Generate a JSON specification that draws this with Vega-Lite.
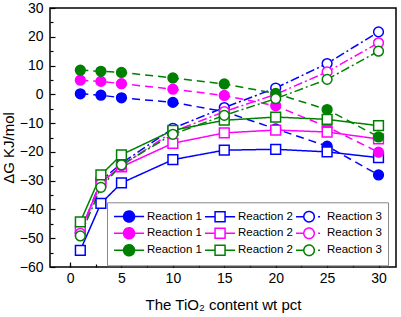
{
  "$schema": "https://vega.github.io/schema/vega-lite/v6.json",
  "width": 346,
  "height": 259,
  "autosize": "none",
  "padding": {"left": 50, "top": 8, "right": 5, "bottom": 50},
  "config": {
    "font": "Liberation Sans",
    "view": {"stroke": "black", "strokeWidth": 1.5},
    "axis": {"grid": false, "domain": false, "labelColor": "black", "titleColor": "black", "tickColor": "black", "titleFontWeight": "normal", "labelFlush": false, "labelOverlap": false},
    "legend": {"orient": "none", "legendX": 57, "legendY": 194.3, "columns": 3, "columnPadding": 0, "rowPadding": -2.5, "padding": 6,
      "strokeColor": "#888888", "fillColor": "white", "labelFontSize": 11.5, "labelColor": "black", "labelOffset": 18, "symbolSize": 196, "symbolStrokeWidth": 1.5}
  },
  "data": {
    "values": [
      {"x": 1, "dG": 0.2, "s": "b1"}, {"x": 3, "dG": -0.3, "s": "b1"}, {"x": 5, "dG": -1.2, "s": "b1"}, {"x": 10, "dG": -2.8, "s": "b1"}, {"x": 15, "dG": -6, "s": "b1"}, {"x": 20, "dG": -12, "s": "b1"}, {"x": 25, "dG": -18, "s": "b1"}, {"x": 30, "dG": -28, "s": "b1"},
      {"x": 1, "dG": -54.2, "s": "b2"}, {"x": 3, "dG": -37.9, "s": "b2"}, {"x": 5, "dG": -30.8, "s": "b2"}, {"x": 10, "dG": -22.7, "s": "b2"}, {"x": 15, "dG": -19.4, "s": "b2"}, {"x": 20, "dG": -19.1, "s": "b2"}, {"x": 25, "dG": -20, "s": "b2"}, {"x": 30, "dG": -22, "s": "b2"},
      {"x": 1, "dG": -48, "s": "b3"}, {"x": 3, "dG": -30, "s": "b3"}, {"x": 5, "dG": -24, "s": "b3"}, {"x": 10, "dG": -11.8, "s": "b3"}, {"x": 15, "dG": -4.6, "s": "b3"}, {"x": 20, "dG": 2.2, "s": "b3"}, {"x": 25, "dG": 10.7, "s": "b3"}, {"x": 30, "dG": 21.7, "s": "b3"},
      {"x": 1, "dG": 4.9, "s": "m1"}, {"x": 3, "dG": 4.5, "s": "m1"}, {"x": 5, "dG": 3.7, "s": "m1"}, {"x": 10, "dG": 1.8, "s": "m1"}, {"x": 15, "dG": -0.4, "s": "m1"}, {"x": 20, "dG": -4, "s": "m1"}, {"x": 25, "dG": -11.3, "s": "m1"}, {"x": 30, "dG": -20.1, "s": "m1"},
      {"x": 1, "dG": -47.5, "s": "m2"}, {"x": 3, "dG": -30.5, "s": "m2"}, {"x": 5, "dG": -25.2, "s": "m2"}, {"x": 10, "dG": -17, "s": "m2"}, {"x": 15, "dG": -13.4, "s": "m2"}, {"x": 20, "dG": -12.4, "s": "m2"}, {"x": 25, "dG": -13.1, "s": "m2"}, {"x": 30, "dG": -15.5, "s": "m2"},
      {"x": 1, "dG": -48.3, "s": "m3"}, {"x": 3, "dG": -31, "s": "m3"}, {"x": 5, "dG": -24.8, "s": "m3"}, {"x": 10, "dG": -13, "s": "m3"}, {"x": 15, "dG": -6, "s": "m3"}, {"x": 20, "dG": 0, "s": "m3"}, {"x": 25, "dG": 7.8, "s": "m3"}, {"x": 30, "dG": 17.9, "s": "m3"},
      {"x": 1, "dG": 8.4, "s": "g1"}, {"x": 3, "dG": 8.0, "s": "g1"}, {"x": 5, "dG": 7.6, "s": "g1"}, {"x": 10, "dG": 5.7, "s": "g1"}, {"x": 15, "dG": 3.6, "s": "g1"}, {"x": 20, "dG": 0.3, "s": "g1"}, {"x": 25, "dG": -5.3, "s": "g1"}, {"x": 30, "dG": -14.8, "s": "g1"},
      {"x": 1, "dG": -44.3, "s": "g2"}, {"x": 3, "dG": -28, "s": "g2"}, {"x": 5, "dG": -21, "s": "g2"}, {"x": 10, "dG": -12.5, "s": "g2"}, {"x": 15, "dG": -9, "s": "g2"}, {"x": 20, "dG": -7.9, "s": "g2"}, {"x": 25, "dG": -8.7, "s": "g2"}, {"x": 30, "dG": -10.9, "s": "g2"},
      {"x": 1, "dG": -49.2, "s": "g3"}, {"x": 3, "dG": -32.3, "s": "g3"}, {"x": 5, "dG": -24.5, "s": "g3"}, {"x": 10, "dG": -13.9, "s": "g3"}, {"x": 15, "dG": -7.3, "s": "g3"}, {"x": 20, "dG": -1.5, "s": "g3"}, {"x": 25, "dG": 5.2, "s": "g3"}, {"x": 30, "dG": 15, "s": "g3"}
    ]
  },
  "resolve": {"axis": {"x": "independent", "y": "independent"}},
  "layer": [
    {
      "mark": {"type": "line", "strokeWidth": 1.5},
      "encoding": {
        "x": {"field": "x", "type": "quantitative", "scale": {"domain": [-1.95, 31.7], "nice": false, "zero": false},
          "axis": {"orient": "bottom", "offset": -5, "values": [0, 5, 10, 15, 20, 25, 30], "tickSize": 5, "tickWidth": 1.2, "labelFontSize": 14, "labelPadding": 4.5, "title": "The TiO₂ content  wt pct", "titleFontSize": 15, "titleY": 47, "titleBaseline": "alphabetic"}},
        "y": {"field": "dG", "type": "quantitative", "scale": {"domain": [-60, 30], "nice": false, "zero": false},
          "axis": {"orient": "left", "offset": -5, "values": [-60, -50, -40, -30, -20, -10, 0, 10, 20, 30], "tickSize": 5, "tickWidth": 1.2, "labelFontSize": 14, "labelPadding": 7, "title": "ΔG KJ/mol", "titleFontSize": 15, "titleX": -41.5, "titleY": 139.5, "titleBaseline": "alphabetic"}},
        "color": {"field": "s", "type": "nominal",
          "scale": {"domain": ["b1", "m1", "g1", "b2", "m2", "g2", "b3", "m3", "g3"], "range": ["#0000FF", "#FF00FF", "#008000", "#0000FF", "#FF00FF", "#008000", "#0000FF", "#FF00FF", "#008000"]},
          "legend": {"title": null, "labelExpr": "'Reaction ' + slice(datum.value, 1)",
            "encoding": {"symbols": {
              "strokeDash": {"value": [1, 0]},
              "fill": {"value": {"expr": "scale('fill', datum.value)"}},
              "shape": {"value": {"expr": "slice(datum.value,1)=='1' ? 'M-1,0H0.364M1.936,0H3.3M0.364,0A0.786,0.786 0 1,0 1.936,0A0.786,0.786 0 1,0 0.364,0Z' : slice(datum.value,1)=='2' ? 'M-1,0H0.436M1.864,0H3.3M0.436,-0.714H1.864V0.714H0.436Z' : 'M-0.71,0H0.4M2.44,0H2.72M0.4,0A0.75,0.75 0 1,0 1.9,0A0.75,0.75 0 1,0 0.4,0Z'"}}
            }}}},
        "strokeDash": {"field": "s", "type": "nominal", "legend": null,
          "scale": {"domain": ["g1", "g2", "g3", "m1", "m2", "m3", "b1", "b2", "b3"], "range": [[8, 5], [1, 0], [9, 3, 2, 3], [8, 5], [1, 0], [9, 3, 2, 3], [8, 5], [1, 0], [9, 3, 2, 3]]}}
      }
    },
    {
      "mark": {"type": "point", "size": 95, "strokeWidth": 1.5, "opacity": 1},
      "encoding": {
        "x": {"field": "x", "type": "quantitative",
          "axis": {"orient": "bottom", "offset": -3, "values": [0, 2.5, 5, 7.5, 10, 12.5, 15, 17.5, 20, 22.5, 25, 27.5, 30], "tickSize": 3, "tickWidth": 1.2, "labels": false, "title": null}},
        "y": {"field": "dG", "type": "quantitative",
          "axis": {"orient": "left", "offset": -3, "values": [-55, -45, -35, -25, -15, -5, 5, 15, 25], "tickSize": 3, "tickWidth": 1.2, "labels": false, "title": null}},
        "color": {"field": "s", "type": "nominal"},
        "fill": {"field": "s", "type": "nominal", "legend": null,
          "scale": {"domain": ["b1", "b2", "b3", "m1", "m2", "m3", "g1", "g2", "g3"], "range": ["#0000FF", "white", "white", "#FF00FF", "white", "white", "#008000", "white", "white"]}},
        "shape": {"field": "s", "type": "nominal", "legend": null,
          "scale": {"domain": ["g1", "g2", "g3", "m1", "m2", "m3", "b1", "b2", "b3"], "range": ["circle", "square", "circle", "circle", "square", "circle", "circle", "square", "circle"]}}
      }
    }
  ]
}
